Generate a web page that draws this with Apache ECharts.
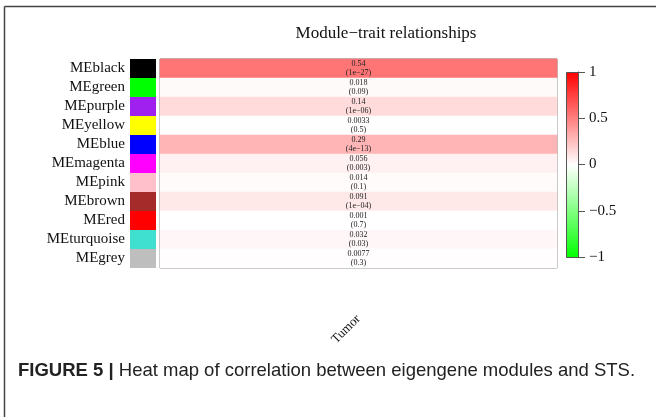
<!DOCTYPE html>
<html><head><meta charset="utf-8">
<script src="https://cdn.jsdelivr.net/npm/echarts@6/dist/echarts.min.js"></script>
<style>html,body{margin:0;padding:0;background:#fff}#c{width:656px;height:417px}</style>
</head><body><div id="c"></div>
<script>
const modules = ['MEblack','MEgreen','MEpurple','MEyellow','MEblue','MEmagenta','MEpink','MEbrown','MEred','MEturquoise','MEgrey'];
const moduleColors = ['#000000','#00FF00','#A020F0','#FFFF00','#0000FF','#FF00FF','#FFC0CB','#A52A2A','#FF0000','#40E0D0','#BEBEBE'];
const traits = ['Tumor'];
const corr = [0.54, 0.018, 0.14, 0.0033, 0.29, 0.056, 0.014, 0.091, 0.001, 0.032, 0.0077];
const pvals = ['1e\u221227','0.09','1e\u221206','0.5','4e\u221213','0.003','0.1','1e\u221204','0.7','0.03','0.3'];
const barTicks = [-1, -0.5, 0, 0.5, 1];

const serif = '"Liberation Serif", "DejaVu Serif", serif';
const chart = echarts.init(document.getElementById('c'));
const heatData = corr.map((v, i) => [0, i, v]);
const fmtTick = v => (v < 0 ? '\u2212' + Math.abs(v) : String(v));

chart.setOption({
  animation: false,
  backgroundColor: '#fff',
  title: {
    text: 'Module\u2212trait relationships',
    left: 381, top: 20, textAlign: 'center',
    textStyle: {fontFamily: serif, fontSize: 17, fontWeight: 'normal', color: '#111'}
  },
  visualMap: {
    show: false, min: -1, max: 1, seriesIndex: 0, dimension: 2,
    inRange: {color: ['#00FF00', '#FFFFFF', '#FF0000']}
  },
  grid: [
    {left: 160, top: 59, width: 397, height: 209, show: true, borderColor: '#777', borderWidth: 1, backgroundColor: 'transparent'},
    {left: 130, top: 59, width: 26, height: 209},
    {left: 566, top: 72, width: 12, height: 185}
  ],
  xAxis: [
    {gridIndex: 0, type: 'category', data: traits,
     axisLine: {show: false}, axisTick: {show: false},
     axisLabel: {rotate: 45, margin: 49, fontFamily: serif, fontSize: 13, color: '#111'}},
    {gridIndex: 1, type: 'value', min: 0, max: 1, show: false},
    {gridIndex: 2, type: 'value', min: 0, max: 1, show: false}
  ],
  yAxis: [
    {gridIndex: 0, type: 'category', data: modules, inverse: true, show: false},
    {gridIndex: 1, type: 'category', data: modules, inverse: true,
     axisLine: {show: false}, axisTick: {show: false},
     axisLabel: {interval: 0, margin: 5, fontFamily: serif, fontSize: 15, color: '#111'}},
    {gridIndex: 2, type: 'value', min: -1, max: 1, interval: 0.5, position: 'right',
     splitLine: {show: false},
     axisLine: {show: true, onZero: false, lineStyle: {color: '#555', width: 1}},
     axisTick: {show: true, inside: false, length: 7, lineStyle: {color: '#555'}},
     axisLabel: {margin: 11, fontFamily: serif, fontSize: 15, color: '#111', formatter: fmtTick}}
  ],
  series: [
    {type: 'heatmap', xAxisIndex: 0, yAxisIndex: 0, data: heatData,
     label: {show: true, fontFamily: serif, fontSize: 8, color: '#222', lineHeight: 9.5,
       formatter: p => corr[p.data[1]] + '\n(' + pvals[p.data[1]] + ')'}},
    {type: 'bar', xAxisIndex: 1, yAxisIndex: 1, barWidth: '100%', silent: true,
     data: moduleColors.map(c => ({value: 1, itemStyle: {color: c}}))}
  ],
  graphic: [
    {type: 'rect', left: 566, top: 72, z: -1,
     shape: {width: 12, height: 185},
     style: {fill: new echarts.graphic.LinearGradient(0, 0, 0, 1, [
       {offset: 0, color: '#FF0000'}, {offset: 0.5, color: '#FFFFFF'}, {offset: 1, color: '#00FF00'}]),
       stroke: '#555', lineWidth: 1}},
    {type: 'line', shape: {x1: 4.5, y1: 6.5, x2: 656, y2: 6.5}, style: {stroke: '#444', lineWidth: 1.5}},
    {type: 'line', shape: {x1: 4.5, y1: 6.5, x2: 4.5, y2: 417}, style: {stroke: '#444', lineWidth: 1.5}},
    {type: 'text', left: 18, top: 361,
     style: {rich: {b: {fontFamily: '"Liberation Sans", Arial, sans-serif', fontWeight: 'bold', fontSize: 18.5, fill: '#222'},
                    n: {fontFamily: '"Liberation Sans", Arial, sans-serif', fontSize: 18.5, fill: '#222'}},
             text: '{b|FIGURE 5 |}{n| Heat map of correlation between eigengene modules and STS.}'}}
  ]
});
</script></body></html>
